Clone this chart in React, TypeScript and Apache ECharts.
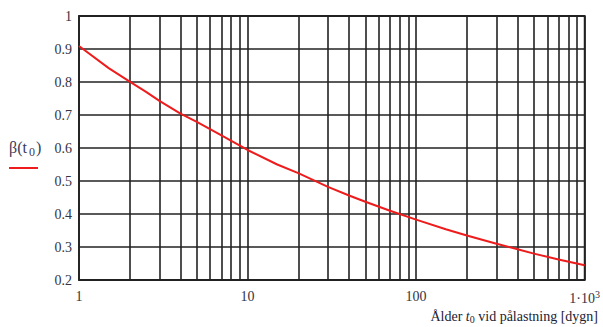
import React, { useEffect, useRef } from "react";
import * as echarts from "echarts";

const ageDays = [1, 1.5, 2, 2.5, 3, 4, 5, 7, 10, 15, 20, 30, 40, 50, 70, 100, 150, 200, 300, 400, 500, 700, 1000];
const betaValues = [0.909, 0.842, 0.801, 0.77, 0.743, 0.704, 0.679, 0.638, 0.594, 0.55, 0.524, 0.482, 0.456, 0.437, 0.41, 0.383, 0.354, 0.335, 0.31, 0.293, 0.28, 0.262, 0.245];
const minorGridX = [2, 3, 4, 5, 6, 7, 8, 9, 20, 30, 40, 50, 60, 70, 80, 90, 200, 300, 400, 500, 600, 700, 800, 900];
const xTickLabels: Record<number, string> = { 1: "1", 10: "10", 100: "100", 1000: "1·10{sup|3}" };

const FONT = "'Liberation Serif', 'DejaVu Serif', serif";
const GRID = "#222222";
const TXT = "#333344";

export default function App() {
  const ref = useRef<HTMLDivElement>(null);
  useEffect(() => {
    if (!ref.current) return;
    const chart = echarts.init(ref.current, undefined, { renderer: "svg" });
    chart.setOption({
      animation: false,
      grid: { left: 79, right: 14, top: 16, bottom: 47, show: true, borderColor: GRID, borderWidth: 1.8 },
      xAxis: {
        type: "log",
        logBase: 10,
        min: 1,
        max: 1000,
        axisLine: { show: false },
        axisTick: { show: false },
        splitLine: { show: true, lineStyle: { color: GRID, width: 1.6 } },
        axisLabel: {
          fontFamily: FONT,
          fontSize: 14,
          color: TXT,
          margin: 9,
          formatter: (v: number) => xTickLabels[Math.round(v)] ?? "",
          rich: { sup: { fontFamily: FONT, fontSize: 10, color: TXT, verticalAlign: "top", padding: [0, 0, 8, 0] } },
        },
      },
      yAxis: {
        type: "value",
        min: 0.2,
        max: 1,
        interval: 0.1,
        axisLine: { show: false },
        axisTick: { show: false },
        splitLine: { show: true, lineStyle: { color: GRID, width: 1.6 } },
        axisLabel: {
          fontFamily: FONT,
          fontSize: 14,
          color: TXT,
          margin: 7,
          formatter: (v: number) => String(Math.round(v * 10) / 10),
        },
      },
      series: [
        {
          type: "line",
          data: ageDays.map((d, i) => [d, betaValues[i]]),
          smooth: false,
          showSymbol: false,
          lineStyle: { color: "#ee1c1c", width: 2, join: "round" },
          z: 5,
          markLine: {
            silent: true,
            symbol: "none",
            label: { show: false },
            lineStyle: { color: GRID, width: 1.6, type: "solid" },
            data: minorGridX.map((x) => ({ xAxis: x })),
            z: 1,
          },
        },
      ],
      graphic: [
        {
          type: "text",
          left: 9,
          top: 139,
          style: {
            text: "β(t{sub|0})",
            fontFamily: FONT,
            fontSize: 16,
            fill: "#3a3a5a",
            rich: { sub: { fontFamily: FONT, fontSize: 12, fill: "#3a3a5a", padding: [9, 1, 0, 2] } },
          },
        },
        {
          type: "line",
          shape: { x1: 9, y1: 168, x2: 38, y2: 168 },
          style: { stroke: "#ee1c1c", lineWidth: 2 },
        },
        {
          type: "text",
          right: 5,
          top: 309,
          style: {
            text: "Ålder {i|t}{sub|0} vid pålastning [dygn]",
            fontFamily: FONT,
            fontSize: 14,
            fill: "#222233",
            rich: {
              i: { fontFamily: FONT, fontSize: 14, fontStyle: "italic", fill: "#222233" },
              sub: { fontFamily: FONT, fontSize: 10, fill: "#222233", padding: [6, 0, 0, 0] },
            },
          },
        },
      ],
    });
    return () => chart.dispose();
  }, []);
  return <div ref={ref} style={{ width: 603, height: 327, position: "absolute", left: 0, top: 0 }} />;
}
